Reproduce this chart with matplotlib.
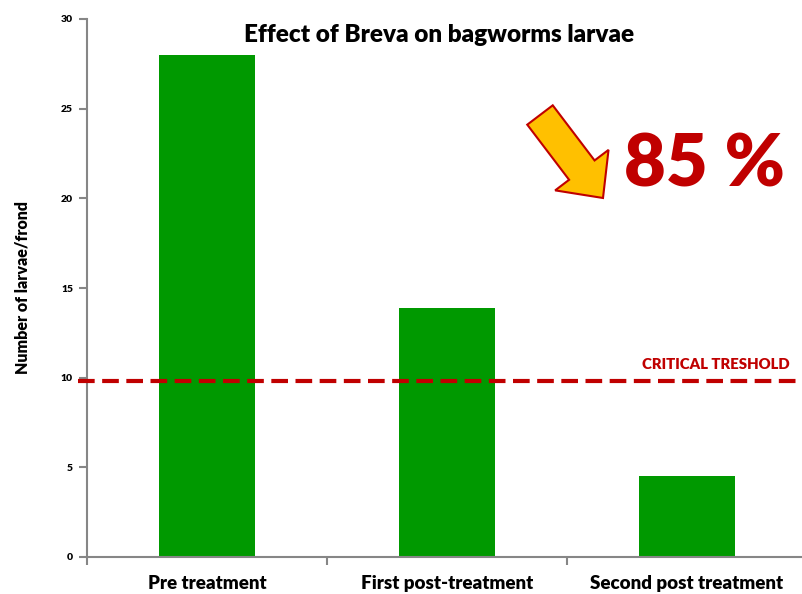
import matplotlib
matplotlib.use('Agg')
import matplotlib.pyplot as plt
from matplotlib.patches import FancyArrow
from matplotlib.transforms import Affine2D, blended_transform_factory
import numpy as np

plt.rcParams['font.family'] = ['Lato', 'DejaVu Sans']

# dati
categories = ['Pre treatment', 'First post-treatment', 'Second post treatment']
larvae = [28.0, 13.9, 4.5]
threshold = 9.8
y_ticks = [0, 5, 10, 15, 20, 25, 30]

fig = plt.figure(figsize=(8.03, 5.94), dpi=100)
ax = fig.add_axes([87/803, 37/594, 720/803, 538/594])

x = np.arange(len(categories))
ax.bar(x, larvae, width=0.40, color='#009900', zorder=2)

ax.set_xlim(-0.5, 2.5)
ax.set_ylim(0, 30)
ax.set_yticks(y_ticks)
ax.set_yticklabels([str(v) for v in y_ticks], fontsize=7.5, fontweight='heavy')
ax.set_xticks(x)
ax.set_xticklabels(categories, fontsize=13.5, fontweight='heavy')
ax.tick_params(axis='x', length=0, pad=13)
ax.set_xticks([-0.5, 0.5, 1.5, 2.5], minor=True)
ax.tick_params(axis='x', which='minor', length=6, color='#868686', width=1.5)
ax.tick_params(axis='y', length=6, color='#868686', width=1.5, pad=4)

for s in ['top', 'right']:
    ax.spines[s].set_visible(False)
for s in ['left', 'bottom']:
    ax.spines[s].set_color('#868686')
    ax.spines[s].set_linewidth(1.5)

ax.set_ylabel('Number of larvae/frond', fontsize=11.5, fontweight='heavy', labelpad=22)

# soglia critica
tr = blended_transform_factory(ax.transAxes, ax.transData)
ax.plot([-0.012, 1.0], [threshold, threshold], transform=tr, color='#C00000',
        lw=3, dashes=(4, 1.8), clip_on=False, zorder=3)
ax.text(0.976, threshold + 0.55, 'CRITICAL TRESHOLD', transform=tr, ha='right',
        va='bottom', color='#C00000', fontsize=10.7, fontweight='heavy')

fig.text(439/803, 1 - 35/594, 'Effect of Breva on bagworms larvae', ha='center',
         va='center', fontsize=17.5, fontweight='heavy')

# freccia e percentuale
px = Affine2D().scale(1/100, -1/100).translate(0, 5.94) + fig.dpi_scale_trans
arrow = FancyArrow(540, 115, 63, 83, width=32, head_width=67, head_length=35,
                   length_includes_head=True, facecolor='#FFC000', edgecolor='#C00000',
                   linewidth=1.5, transform=px)
fig.add_artist(arrow)
fig.text(705/803, 1 - 166/594, '85 %', ha='center', va='center', fontsize=52,
         fontweight='heavy', color='#C00000')

fig.savefig('out.png', dpi=100)
